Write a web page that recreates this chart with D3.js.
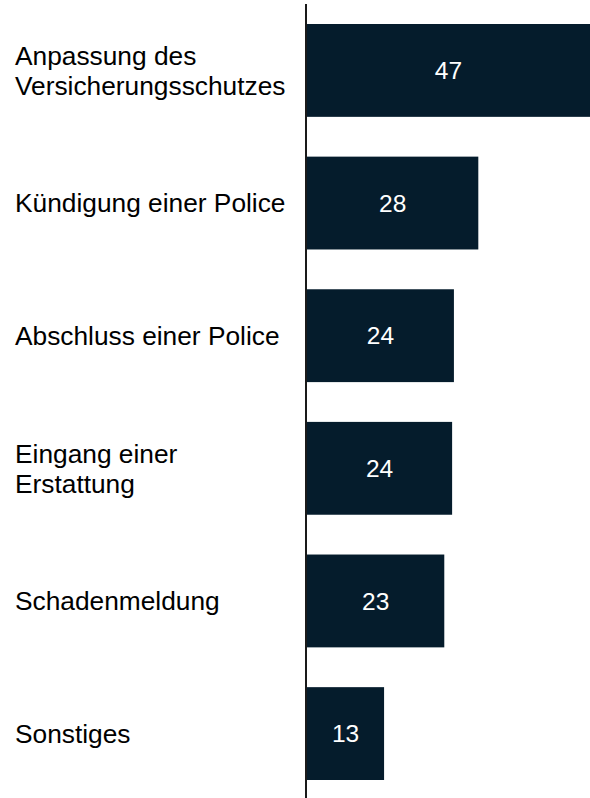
<!DOCTYPE html>
<html>
<head>
<meta charset="utf-8">
<script src="https://cdn.jsdelivr.net/npm/d3@7"></script>
<style>
  body { margin: 0; background: #fff; }
  svg { display: block; }
</style>
</head>
<body>
<div id="chart"></div>
<script>
// categories (one entry per line of the label)
var categories = [
  ["Anpassung des", "Versicherungsschutzes"],
  ["Kündigung einer Police"],
  ["Abschluss einer Police"],
  ["Eingang einer", "Erstattung"],
  ["Schadenmeldung"],
  ["Sonstiges"]
];
// values, labels shown rounded
var values = [47, 28.45, 24.4, 24.1, 22.8, 12.8];

var width = 590, height = 798;

var svg = d3.select("#chart")
  .append("svg")
    .attr("width", width)
    .attr("height", height);

var names = categories.map(function(d) { return d.join(" "); });

var x = d3.scaleLinear()
    .domain([0, 47])
    .range([307, 590]);

var y = d3.scaleBand()
    .domain(names)
    .range([24, 780])
    .paddingInner(0.3)
    .paddingOuter(0);

var fmt = d3.format(".0f");

// bars
svg.selectAll("rect.bar")
  .data(values)
  .enter().append("rect")
    .attr("class", "bar")
    .attr("x", x(0))
    .attr("y", function(d, i) { return y(names[i]); })
    .attr("width", function(d) { return x(d) - x(0); })
    .attr("height", y.bandwidth())
    .style("fill", "#051c2c");

// value labels
svg.selectAll("text.val")
  .data(values)
  .enter().append("text")
    .attr("class", "val")
    .attr("x", function(d) { return (x(0) + Math.min(x(d), width)) / 2; })
    .attr("y", function(d, i) { return y(names[i]) + y.bandwidth() / 2; })
    .attr("dy", "0.35em")
    .attr("text-anchor", "middle")
    .attr("font-family", "Liberation Sans, Arial, sans-serif")
    .attr("font-size", "24.5px")
    .attr("fill", "#fff")
    .text(function(d) { return fmt(d); });

// category labels
var lineH = 30;
categories.forEach(function(lines, i) {
  var cy = y(names[i]) + y.bandwidth() / 2;
  var t = svg.append("text")
      .attr("x", 15)
      .attr("font-family", "Liberation Sans, Arial, sans-serif")
      .attr("font-size", "26.3px")
      .attr("fill", "#000");
  lines.forEach(function(l, j) {
    t.append("tspan")
      .attr("x", 15)
      .attr("y", cy + (j - (lines.length - 1) / 2) * lineH)
      .attr("dy", "0.35em")
      .text(l);
  });
});

// axis line
svg.append("line")
    .attr("x1", x(0) - 1)
    .attr("x2", x(0) - 1)
    .attr("y1", 4)
    .attr("y2", height)
    .style("stroke", "#1a1a1a")
    .style("stroke-width", 2);
</script>
</body>
</html>
